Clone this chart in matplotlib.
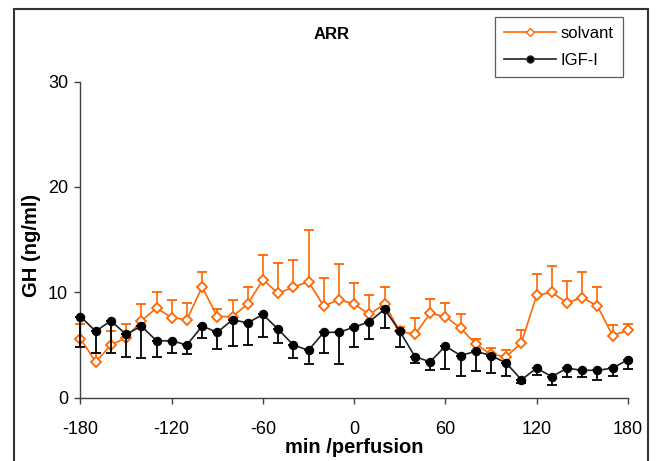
import matplotlib
matplotlib.use("Agg")
import matplotlib.pyplot as plt
from matplotlib.patches import Rectangle
from matplotlib.lines import Line2D

plt.rcParams['font.family'] = ['Liberation Sans', 'DejaVu Sans']
plt.rcParams['axes.unicode_minus'] = False

# time points (min relative to perfusion)
minutes = list(range(-180, 181, 10))

# solvant: mean and upper SEM
solvant = [5.6, 3.4, 5.0, 5.7, 7.3, 8.5, 7.6, 7.4, 10.5,
           7.7, 7.7, 8.9, 11.2, 9.9, 10.5, 11.0, 8.7, 9.3,
           8.9, 7.9, 8.9, 6.3, 6.0, 8.0, 7.7, 6.6, 5.1,
           4.1, 3.9, 5.2, 9.7, 10.0, 9.0, 9.5, 8.7, 5.9, 6.4]
solvant_err = [1.4, 0.85, 1.3, 1.3, 1.55, 1.5, 1.7, 1.6, 1.4,
               0.7, 1.55, 1.6, 2.3, 2.9, 2.6, 4.9, 2.7, 3.4,
               2.0, 1.8, 1.6, 0.4, 1.55, 1.35, 1.3, 1.3, 0.5,
               0.6, 0.6, 1.2, 2.0, 2.5, 2.1, 2.4, 1.8, 1.0, 0.6]

# IGF-I: mean and lower SEM
igf = [7.7, 6.3, 7.3, 6.0, 6.8, 5.4, 5.4, 5.0, 6.8,
       6.2, 7.4, 7.1, 7.9, 6.5, 5.0, 4.5, 6.2, 6.2,
       6.7, 7.2, 8.4, 6.3, 3.9, 3.4, 4.9, 4.0, 4.4,
       4.0, 3.3, 1.7, 2.8, 2.0, 2.8, 2.6, 2.6, 2.8, 3.6]
igf_err = [2.9, 2.05, 3.1, 2.1, 3.0, 1.5, 1.2, 0.9, 1.1,
           1.6, 2.5, 2.1, 2.1, 1.3, 1.2, 1.3, 2.0, 3.0,
           1.9, 1.65, 1.8, 1.5, 0.6, 0.8, 2.2, 1.9, 1.9,
           1.7, 1.2, 0.3, 0.6, 0.75, 0.8, 0.6, 0.9, 0.7, 0.9]

orange = '#FF6600'
dark = '#222222'

fig = plt.figure(figsize=(6.56, 4.61), dpi=100)
ax = fig.add_axes([0.1227, 0.1373, 0.8343, 0.6859])

zeros = [0] * len(minutes)
ax.errorbar(minutes, solvant, yerr=[zeros, solvant_err], color=orange,
            marker='D', markersize=5, markerfacecolor='white',
            markeredgecolor=orange, markeredgewidth=1.3, linewidth=1.2,
            ecolor=orange, elinewidth=1.2, capsize=3.5, capthick=1.2,
            clip_on=False, zorder=2)
ax.errorbar(minutes, igf, yerr=[igf_err, zeros], color=dark,
            marker='o', markersize=5.8, markerfacecolor='black',
            markeredgecolor='black', linewidth=1.2,
            ecolor='black', elinewidth=1.3, capsize=3.5, capthick=1.3,
            clip_on=False, zorder=3)

ax.set_xlim(-180, 180)
ax.set_ylim(0, 30)
ax.set_xticks(range(-180, 181, 60))
ax.set_yticks([0, 10, 20, 30])
ax.tick_params(direction='out', length=4, width=1, color='#404040',
               labelsize=13)
ax.tick_params(axis='x', pad=13)
ax.tick_params(axis='y', pad=5)
for s in ['top', 'right']:
    ax.spines[s].set_visible(False)
for s in ['left', 'bottom']:
    ax.spines[s].set_color('#404040')
    ax.spines[s].set_linewidth(1)

ax.set_xlabel('min /perfusion', fontsize=14.5, fontweight='bold', va='center')
ax.xaxis.set_label_coords(0.5, -0.159)
ax.set_ylabel('GH (ng/ml)', fontsize=14.5, fontweight='bold', va='center')
ax.yaxis.set_label_coords(-0.09, 0.483)
fig.text(0.506, 0.926, 'ARR', ha='center', va='center',
         fontsize=12, fontweight='bold')

handles = [
    Line2D([], [], color=orange, marker='D', markersize=4.5,
           markerfacecolor='white', markeredgecolor=orange, linewidth=1.2),
    Line2D([], [], color=dark, marker='o', markersize=5,
           markerfacecolor='black', linewidth=1.2),
]
leg = fig.legend(handles, ['solvant', 'IGF-I'], loc='upper left',
                 bbox_to_anchor=(0.7546, 0.963), borderaxespad=0,
                 fontsize=12, frameon=True, fancybox=False,
                 edgecolor='#333333', handlelength=3.1, borderpad=0.55,
                 labelspacing=0.7, handletextpad=0.3)
leg.get_frame().set_linewidth(0.9)

# outer chart frame
fig.patches.append(Rectangle((0.022, -0.05), 0.966, 1.03,
                             transform=fig.transFigure, fill=False,
                             edgecolor='#333333', linewidth=1.5))

fig.savefig('out.png', dpi=100)
